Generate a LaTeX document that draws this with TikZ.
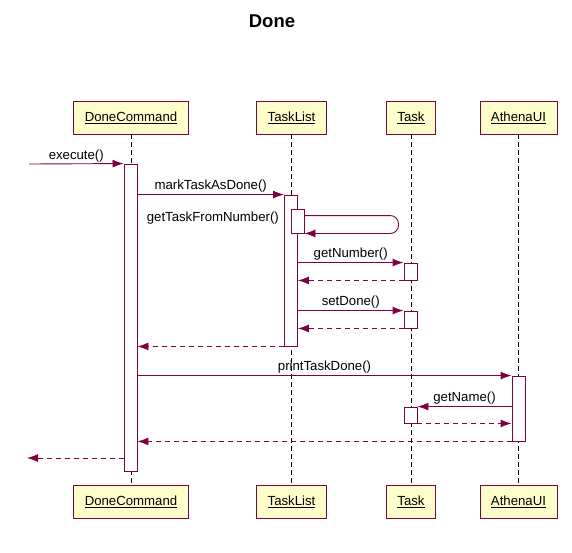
\documentclass[tikz,border=0pt]{standalone}
\usepackage{fontspec}
\setmainfont{Liberation Sans}
\usepackage{xcolor}
\usepackage{tikz}
\usetikzlibrary{arrows.meta}

\definecolor{umlLine}{RGB}{128,0,64}
\definecolor{umlFill}{RGB}{255,255,204}

\tikzset{
  obj/.style={draw=umlLine, fill=umlFill, line width=0.9pt, inner xsep=11pt, minimum height=33pt},
  act/.style={draw=umlLine, fill=white, line width=0.9pt, minimum width=13pt, inner sep=0pt},
  life/.style={draw=black, line width=0.8pt, dash pattern=on 5pt off 3pt},
  msg/.style={draw=umlLine, line width=0.9pt, -{Latex[length=11pt,width=8pt]}},
  ret/.style={msg, dash pattern=on 5pt off 4pt},
  lbl/.style={above, inner sep=1.5pt, text=black}
}

\begin{document}
\begin{tikzpicture}[x=1pt, y=-1pt, font=\fontsize{13.2}{15}\selectfont]
\useasboundingbox (0,0) rectangle (572,552);

\node[font=\bfseries\fontsize{18.5}{20}\selectfont] (title) at (272,21.5) {Done};

\node[obj] (dcTop) at (131,117.5) {\underline{DoneCommand}};
\node[obj] (tlTop) at (291.5,117.5) {\underline{TaskList}};
\node[obj] (tkTop) at (411,117.5) {\underline{Task}};
\node[obj] (uiTop) at (518.5,117.5) {\underline{AthenaUI}};

\node[obj] (dcBot) at (131,501.5) {\underline{DoneCommand}};
\node[obj] (tlBot) at (291.5,501.5) {\underline{TaskList}};
\node[obj] (tkBot) at (411,501.5) {\underline{Task}};
\node[obj] (uiBot) at (518.5,501.5) {\underline{AthenaUI}};

\draw[life] (dcTop) -- (dcBot);
\draw[life] (tlTop) -- (tlBot);
\draw[life] (tkTop) -- (tkBot);
\draw[life] (uiTop) -- (uiBot);

\node[act, minimum height=307pt] (dc1) at (130.5,317.5) {};
\node[act, minimum height=151pt] (tl1) at (291,270.5) {};
\node[act, minimum height=24pt] (tl2) at (297.5,221) {};
\node[act, minimum height=17pt] (tk1) at (410.5,271.5) {};
\node[act, minimum height=17pt] (tk2) at (410.5,319.5) {};
\node[act, minimum height=16pt] (tk3) at (410.5,415) {};
\node[act, minimum height=65pt] (ui1) at (518.5,408.5) {};

\coordinate (caller) at (29,164);
\coordinate (callerEnd) at (27,458);

\draw[msg] (caller) -- node[lbl] {execute()} (dc1.north west);
\draw[msg] (dc1.east |- tl1.north) -- node[lbl] {markTaskAsDone()} (tl1.north west);
\draw[msg, rounded corners=8pt] ([yshift=-7pt]tl2.north east) -- ++(94,0) |- (tl2.south east);
\node[text=black, anchor=east, inner sep=0pt] (loopLbl) at ([shift={(-5pt,3pt)}]tl1.west |- tl2.center) {getTaskFromNumber()};
\draw[msg] (tl1.east |- tk1.north) -- node[lbl] {getNumber()} (tk1.north west);
\draw[ret] (tk1.south west) -- (tl1.east |- tk1.south);
\draw[msg] (tl1.east |- tk2.north) -- node[lbl] {setDone()} (tk2.north west);
\draw[ret] (tk2.south west) -- (tl1.east |- tk2.south);
\draw[ret] (tl1.south west) -- (dc1.east |- tl1.south);
\draw[msg] (dc1.east |- ui1.north) -- node[lbl] {printTaskDone()} (ui1.north west);
\draw[msg] (ui1.west |- tk3.north) -- node[lbl] {getName()} (tk3.north east);
\draw[ret] (tk3.south east) -- (ui1.west |- tk3.south);
\draw[ret] (ui1.south west) -- (dc1.east |- ui1.south);
\draw[ret] (dc1.west |- callerEnd) -- (callerEnd);
\end{tikzpicture}
\end{document}
